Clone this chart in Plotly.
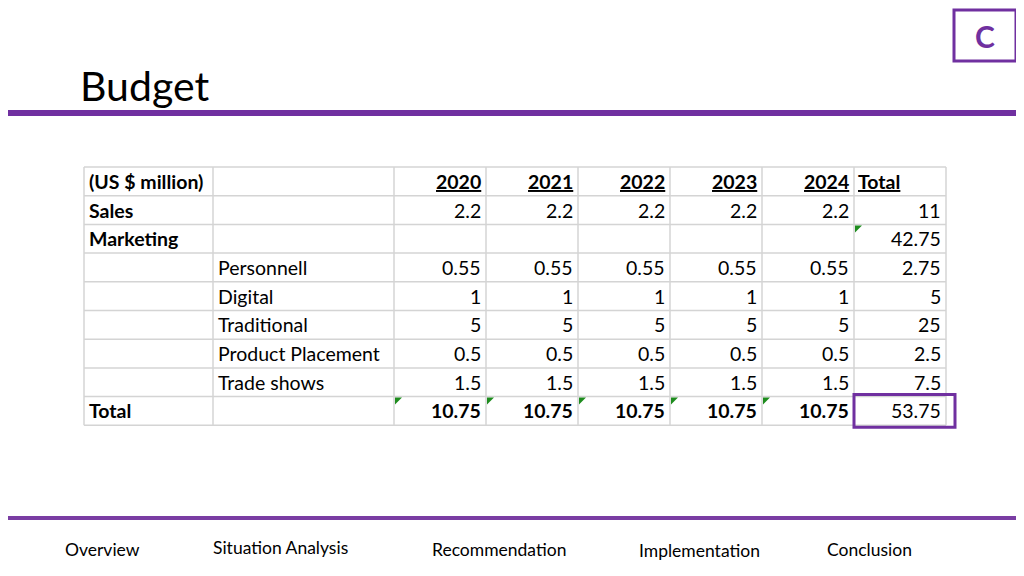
import plotly.graph_objects as go

# ---------------- data ----------------
years = ["2020", "2021", "2022", "2023", "2024"]
row_labels = ["Sales", "Marketing", "", "", "", "", "", "Total"]
sub_labels = ["", "", "Personnell", "Digital", "Traditional", "Product Placement", "Trade shows", ""]
sales = [2.2, 2.2, 2.2, 2.2, 2.2]
marketing = [None, None, None, None, None]
personnell = [0.55, 0.55, 0.55, 0.55, 0.55]
digital = [1, 1, 1, 1, 1]
traditional = [5, 5, 5, 5, 5]
product_placement = [0.5, 0.5, 0.5, 0.5, 0.5]
trade_shows = [1.5, 1.5, 1.5, 1.5, 1.5]
total = [10.75, 10.75, 10.75, 10.75, 10.75]
row_totals = [11, 42.75, 2.75, 5, 25, 2.5, 7.5, 53.75]
nav_items = ["Overview", "Situation Analysis", "Recommendation", "Implementation", "Conclusion"]

series = [sales, marketing, personnell, digital, traditional, product_placement, trade_shows, total]

# ---------------- layout geometry / styles ----------------
PURPLE = "#7030A0"
GRID = "#D4D4D4"
GREEN = "#1E8C1E"
FONT = "Lato"
W, H = 1024, 576
OFF = 8  # page offset of the plot div (default body margin)
col_edges = [84, 213, 394, 486, 578, 670, 762, 854, 946]
row_top, row_h = 167, 28.7
n_rows = 1 + len(series)
fs = 19.5

def fmt(v):
    return "" if v is None else f"{v:g}"

def row_mid(i):
    return row_top + row_h * (i + 0.5)

shapes = []
annotations = []

# grid
table_bottom = row_top + row_h * n_rows
for r in range(n_rows + 1):
    y = row_top + row_h * r
    shapes.append(dict(type="line", x0=col_edges[0], x1=col_edges[-1], y0=y, y1=y,
                       line=dict(color=GRID, width=1.5)))
for x in col_edges:
    shapes.append(dict(type="line", x0=x, x1=x, y0=row_top, y1=table_bottom,
                       line=dict(color=GRID, width=1.5)))

# header row
annotations.append(dict(x=col_edges[0] + 3, y=row_mid(0), text="<b>(US $ million)</b>",
                        xanchor="left"))
for j, yr in enumerate(years):
    annotations.append(dict(x=col_edges[3 + j] - 3, y=row_mid(0), text=f"<b><u>{yr}</u></b>",
                            xanchor="right"))
annotations.append(dict(x=col_edges[7] + 2, y=row_mid(0), text="<b><u>Total</u></b>",
                        xanchor="left"))

# body rows
for i, vals in enumerate(series):
    r = i + 1
    bold = row_labels[i] == "Total"
    if row_labels[i]:
        annotations.append(dict(x=col_edges[0] + 3, y=row_mid(r), text=f"<b>{row_labels[i]}</b>",
                                xanchor="left"))
    if sub_labels[i]:
        annotations.append(dict(x=col_edges[1] + 3, y=row_mid(r), text=sub_labels[i],
                                xanchor="left"))
    for j, v in enumerate(vals):
        t = fmt(v)
        if t:
            annotations.append(dict(x=col_edges[3 + j] - 3, y=row_mid(r),
                                    text=f"<b>{t}</b>" if bold else t, xanchor="right"))
    annotations.append(dict(x=col_edges[8] - 3, y=row_mid(r), text=fmt(row_totals[i]),
                            xanchor="right"))

for a in annotations:
    a.update(xref="x", yref="y", yanchor="middle", showarrow=False,
             font=dict(family=FONT, size=fs, color="black"))

# green error-indicator triangles
def tri(x, y, s=7):
    return dict(type="path", path=f"M {x} {y} L {x + s} {y} L {x} {y + s} Z",
                fillcolor=GREEN, line=dict(width=0))

shapes.append(tri(col_edges[7] + 1, row_top + row_h * 2 + 1))
for j in range(len(years)):
    shapes.append(tri(col_edges[2 + j] + 1, row_top + row_h * 8 + 1))

# highlight box around grand total
shapes.append(dict(type="rect", x0=col_edges[7], x1=955, y0=row_top + row_h * 8 - 2,
                   y1=table_bottom + 2, line=dict(color=PURPLE, width=3)))

# title, rules and "C" box
shapes.append(dict(type="rect", x0=8, x1=1016, y0=110, y1=116, fillcolor=PURPLE,
                   line=dict(width=0)))
shapes.append(dict(type="rect", x0=8, x1=1016, y0=516, y1=520, fillcolor="#7A3DA3",
                   line=dict(width=0)))
shapes.append(dict(type="rect", x0=954, x1=1016, y0=10, y1=61,
                   line=dict(color=PURPLE, width=3)))

extra = [
    dict(x=78, y=85, text="Budget", xanchor="left", font=dict(family=FONT, size=41, color="black")),
    dict(x=985, y=36, text="<b>C</b>", xanchor="center",
         font=dict(family=FONT, size=30, color=PURPLE)),
]
nav_x = [102, 280, 499, 699, 869]
nav_y = [549, 547, 549, 550, 549]
for name, x, y in zip(nav_items, nav_x, nav_y):
    extra.append(dict(x=x, y=y, text=name, xanchor="center",
                      font=dict(family=FONT, size=17.5, color="black")))
for a in extra:
    a.update(xref="x", yref="y", yanchor="middle", showarrow=False)
annotations += extra

fig = go.Figure()
fig.update_layout(
    width=W, height=H, margin=dict(l=0, r=0, t=0, b=0),
    paper_bgcolor="white", plot_bgcolor="white",
    xaxis=dict(range=[OFF, W + OFF], visible=False, fixedrange=True),
    yaxis=dict(range=[H + OFF, OFF], visible=False, fixedrange=True),
    shapes=shapes, annotations=annotations, showlegend=False,
)
fig.write_html("out.html")
